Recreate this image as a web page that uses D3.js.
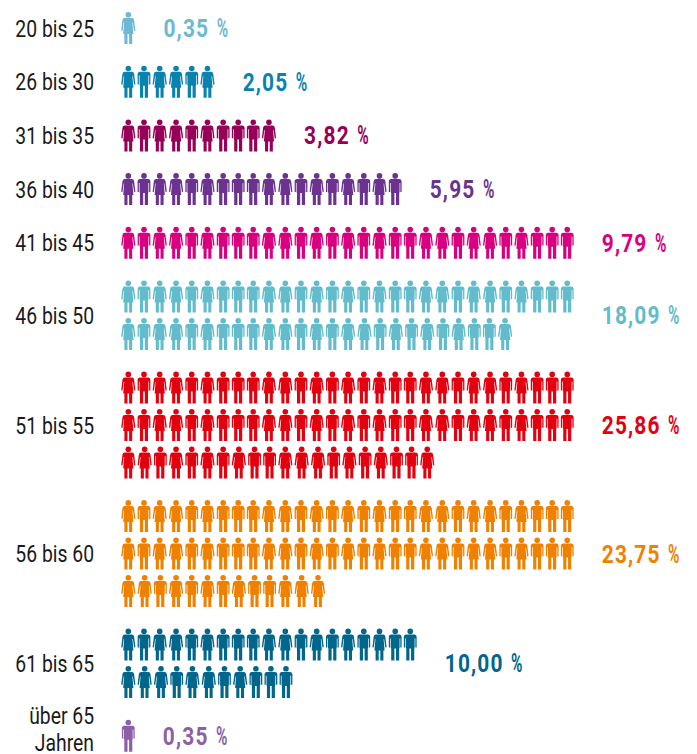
<!DOCTYPE html>
<html>
<head>
<meta charset="utf-8">
<script src="https://d3js.org/d3.v7.min.js"></script>
<style>
    html, body { margin: 0; padding: 0; background: #fff; }
    text { font-family: Roboto, "Liberation Sans", sans-serif; }
</style>
</head>
<body>
<div id="chart"></div>
<script>
// Age groups, top to bottom (each entry = one line of the label)
const ageLabels = [
    ["20 bis 25"], ["26 bis 30"], ["31 bis 35"], ["36 bis 40"], ["41 bis 45"],
    ["46 bis 50"], ["51 bis 55"], ["56 bis 60"], ["61 bis 65"], ["über 65", "Jahren"]
];
const shares = ["0,35", "2,05", "3,82", "5,95", "9,79", "18,09", "25,86", "23,75", "10,00", "0,35"];
const groupColors = ["#6db8d2", "#0a82ae", "#960059", "#6b3290", "#d9007f",
                     "#63bccb", "#e3000f", "#f08000", "#00668c", "#8c5fa6"];

// One string per row of figures: f = woman, m = man
const figureRows = [
    ["f"],
    ["fmffmf"],
    ["fmffmfmmmf"],
    ["fmffmfmmmffmfmfmfm"],
    ["fmffmfmmmffmfmfmfmmffmffmfmmm"],
    ["fmffmfmmmffmfmfmfmmffmffmfmmm", "fmffmfmmmffmfmffmfmfmfmmf"],
    ["fmffmfmmmffmfmfmfmmffmffmfmmm", "fmffmfmmmffmfmfmfmmffmffmfmmm", "ffmfmfmfmmfffmfmfmmf"],
    ["fmffmfmmmffmfmfmfmmffmffmfmmm", "fmffmfmmmffmfmfmfmmffmffmfmmm", "ffmfmfmfmmfff"],
    ["fmffmfmmmffmfmfmfmm", "fffmffmfmmm"],
    ["m"]
];

const width = 697, height = 754;

const svg = d3.select("#chart").append("svg")
    .attr("width", width)
    .attr("height", height);

// x: women take a little more room in a row than men
const halfWidth = {f: 8.18, m: 7.52};
const x = d3.scaleLinear().domain([0, 1]).range([128.3, 129.3]);

// y: groups are one unit apart, extra rows of a group add rowStep units
const rowStep = 0.6965;
const y = d3.scaleLinear().domain([0, 1]).range([12, 65.7]);

const figureHeight = 32;
const labelX = 94, shareGap = 27, percentGap = 7.5;
const labelSqueeze = 0.79, shareSqueeze = 0.82, percentSqueeze = 0.62;

// Figure shapes, origin at top centre of the head
const manPath = "M-4,6 H4 Q6.4,6 6.4,8.6 V18.8 H5.1 V9.8 H4.4 V19 L4,20 V32 H0.8 V20 H-0.8 V32 H-4 V20 "
    + "L-4.4,19 V9.8 H-5.1 V18.8 H-6.4 V8.6 Q-6.4,6 -4,6 Z";
const womanPath = "M-3.6,6 H3.6 Q5.5,6 5.8,8 L7.1,18.6 L5.8,19 L4.6,10.5 L4.1,10.5 L5.1,22 H3.9 V32 H0.8 V22 H-0.8 V32 "
    + "H-3.9 V22 H-5.1 L-4.1,10.5 L-4.6,10.5 L-5.8,19 L-7.1,18.6 L-5.8,8 Q-5.5,6 -3.6,6 Z";

// Running position of every figure in a row
function figureOffsets(row) {
    const offsets = [0];
    for (let i = 1; i < row.length; i++) {
        offsets.push(offsets[i - 1] + halfWidth[row[i - 1]] + halfWidth[row[i]]);
    }
    return offsets;
}

// Walk the groups and work out where each one starts
let cursor = 0;
const groups = ageLabels.map((label, i) => {
    const rows = figureRows[i];
    const g = {
        label: label,
        share: shares[i],
        color: groupColors[i],
        rows: rows,
        start: cursor,
        rowEnd: d3.max(rows, r => x(d3.max(figureOffsets(r))) + halfWidth[r[r.length - 1]])
    };
    cursor += 1 + (rows.length - 1) * rowStep;
    return g;
});

const group = svg.selectAll("g.group")
    .data(groups)
    .join("g")
    .attr("class", "group");

// Rows of figures
const row = group.selectAll("g.row")
    .data(d => d.rows.map((r, j) => ({figures: r, top: y(d.start + j * rowStep), color: d.color})))
    .join("g")
    .attr("class", "row")
    .attr("transform", d => "translate(0," + d.top + ")")
    .attr("fill", d => d.color);

const figure = row.selectAll("g.figure")
    .data(d => {
        const offsets = figureOffsets(d.figures);
        return d.figures.split("").map((kind, i) => ({kind: kind, offset: offsets[i]}));
    })
    .join("g")
    .attr("class", "figure")
    .attr("transform", d => "translate(" + x(d.offset) + ",0)");

figure.append("circle")
    .attr("cy", 2.8)
    .attr("r", 2.8);

figure.append("path")
    .attr("d", d => d.kind === "m" ? manPath : womanPath);

// Middle of a group, used by both texts
function groupMiddle(d) {
    return y(d.start + (d.rows.length - 1) * rowStep) / 2 + y(d.start) / 2 + figureHeight / 2;
}

// Age labels, squeezed sideways because no condensed font is installed
group.append("g")
    .attr("transform", d => "translate(" + labelX + "," + groupMiddle(d) + ") scale(" + labelSqueeze + ",1)")
    .selectAll("text")
    .data(d => d.label.map((line, j) => ({line: line, j: j, n: d.label.length})))
    .join("text")
    .attr("text-anchor", "end")
    .attr("font-size", 24.5)
    .attr("fill", "#1a1a1a")
    .attr("y", d => 8.5 - (d.n - 1) * 20 + d.j * 27)
    .text(d => d.line);

// Percentages: number and sign are set apart, the sign much narrower
const shareText = group.append("g")
    .attr("transform", d => "translate(" + (d.rowEnd + shareGap) + "," + (groupMiddle(d) + 9) + ")");

shareText.append("text")
    .attr("class", "value")
    .attr("transform", "scale(" + shareSqueeze + ",1)")
    .attr("font-size", 25.5)
    .attr("font-weight", 700)
    .attr("letter-spacing", 1.4)
    .attr("fill", d => d.color)
    .text(d => d.share);

shareText.append("text")
    .attr("transform", function() {
        const value = d3.select(this.parentNode).select("text.value").node();
        return "translate(" + (value.getComputedTextLength() * shareSqueeze + percentGap) + ",0) scale(" + percentSqueeze + ",1)";
    })
    .attr("font-size", 25)
    .attr("font-weight", 700)
    .attr("fill", d => d.color)
    .text("%");
</script>
</body>
</html>
